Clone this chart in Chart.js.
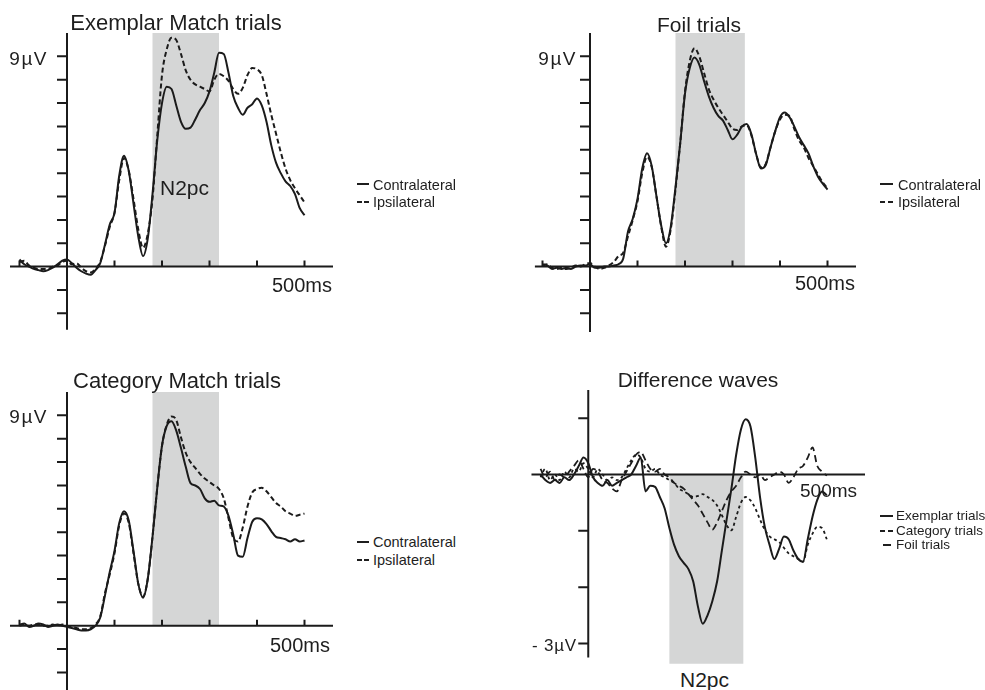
<!DOCTYPE html>
<html>
<head>
<meta charset="utf-8">
<script src="https://cdn.jsdelivr.net/npm/chart.js@4.4.0/dist/chart.umd.min.js"></script>
<style>
body{margin:0;background:#fff;width:985px;height:690px;overflow:hidden;position:relative;font-family:"Liberation Sans",Arial,sans-serif;color:#1e1e1e}
canvas{position:absolute}
.t{position:absolute;white-space:nowrap;line-height:1}
.c{transform:translateX(-50%)}
.r{text-align:right}
.mk{position:absolute;height:2px;background:#1e1e1e}
</style>
</head>
<body>

<canvas id="exemplar" width="323" height="299" style="left:10px;top:33px"></canvas>
<canvas id="foil" width="323" height="299" style="left:533px;top:33px"></canvas>
<canvas id="category" width="323" height="298" style="left:10px;top:392px"></canvas>
<canvas id="difference" width="334" height="276" style="left:531px;top:390px"></canvas>

<!-- titulos -->
<div class="t c" style="left:176px;top:12px;font-size:22px">Exemplar Match trials</div>
<div class="t c" style="left:699px;top:14px;font-size:21px">Foil trials</div>
<div class="t c" style="left:177px;top:370px;font-size:22px">Category Match trials</div>
<div class="t c" style="left:698px;top:369px;font-size:21px">Difference waves</div>

<!-- etiquetas de ejes -->
<div class="t r" style="left:0;width:48px;top:49px;font-size:19px;letter-spacing:1.5px">9µV</div>
<div class="t r" style="left:500px;width:77px;top:49px;font-size:19px;letter-spacing:1.5px">9µV</div>
<div class="t r" style="left:0;width:48px;top:407px;font-size:19px;letter-spacing:1.5px">9µV</div>
<div class="t r" style="left:500px;width:77px;top:637px;font-size:17px;letter-spacing:0.8px">- 3µV</div>
<div class="t" style="left:272px;top:275px;font-size:20px">500ms</div>
<div class="t" style="left:795px;top:273px;font-size:20px">500ms</div>
<div class="t" style="left:270px;top:635px;font-size:20px">500ms</div>
<div class="t" style="left:800px;top:481px;font-size:19px">500ms</div>
<div class="t" style="left:160px;top:177px;font-size:21px">N2pc</div>
<div class="t" style="left:680px;top:669px;font-size:21px">N2pc</div>

<!-- leyendas -->
<div class="mk" style="left:357px;top:183px;width:12px"></div>
<div class="mk" style="left:357px;top:201px;width:5px"></div>
<div class="mk" style="left:364px;top:201px;width:5px"></div>
<div class="t" style="left:373px;top:178px;font-size:14.5px">Contralateral</div>
<div class="t" style="left:373px;top:195px;font-size:14.5px">Ipsilateral</div>

<div class="mk" style="left:880px;top:183px;width:13px"></div>
<div class="mk" style="left:880px;top:201px;width:5px"></div>
<div class="mk" style="left:888px;top:201px;width:5px"></div>
<div class="t" style="left:898px;top:178px;font-size:14.5px">Contralateral</div>
<div class="t" style="left:898px;top:195px;font-size:14.5px">Ipsilateral</div>

<div class="mk" style="left:357px;top:541px;width:12px"></div>
<div class="mk" style="left:357px;top:559px;width:5px"></div>
<div class="mk" style="left:364px;top:559px;width:5px"></div>
<div class="t" style="left:373px;top:535px;font-size:14.5px">Contralateral</div>
<div class="t" style="left:373px;top:553px;font-size:14.5px">Ipsilateral</div>

<div class="mk" style="left:880px;top:515px;width:13px"></div>
<div class="mk" style="left:880px;top:530px;width:5px"></div>
<div class="mk" style="left:888px;top:530px;width:5px"></div>
<div class="mk" style="left:883px;top:544px;width:8px"></div>
<div class="t" style="left:896px;top:509px;font-size:13.5px">Exemplar trials</div>
<div class="t" style="left:896px;top:524px;font-size:13.5px">Category trials</div>
<div class="t" style="left:896px;top:538px;font-size:13.5px">Foil trials</div>

<script>
// tiempo en ms
var times = [-100,-90,-80,-70,-60,-50,-40,-30,-20,-10,
	0,10,20,30,40,50,60,70,80,90,
	100,110,120,130,140,150,160,170,180,190,
	200,210,220,230,240,250,260,270,280,290,
	300,310,320,330,340,350,360,370,380,390,
	400,410,420,430,440,450,460,470,480,490,
	500];

// Exemplar Match (µV)
var exContra = [0.3,0.1,0,-0.1,-0.15,-0.2,-0.15,-0.05,0.1,0.25,
	0.3,0.15,-0.05,-0.2,-0.3,-0.35,-0.15,0.15,0.95,1.8,
	2.3,3.9,4.75,4.1,2.7,1.3,0.45,1.2,3.1,5.4,
	7.0,7.7,7.6,6.9,6.2,5.9,5.95,6.3,6.7,7.0,
	7.5,8.3,9.15,9.1,8.3,7.3,6.8,6.5,6.8,6.95,
	7.2,6.9,6.2,5.2,4.45,4.0,3.65,3.45,3.1,2.5,
	2.2];
var exIpsi = [0.2,0.25,0.05,-0.05,-0.1,-0.1,-0.1,0,0.05,0.2,
	0.25,0.1,0.15,-0.05,-0.2,-0.25,-0.1,0.2,0.9,1.7,
	2.3,3.7,4.65,4.1,2.9,1.6,0.8,1.4,2.9,5.6,
	8.2,9.3,9.8,9.7,9.1,8.4,8.0,7.8,7.7,7.6,
	7.5,8.0,8.25,8.15,7.95,7.6,7.4,7.65,8.2,8.5,
	8.45,8.2,7.4,6.5,5.7,4.9,4.2,3.7,3.35,3.05,
	2.75];

// Foil
var foilContra = [0.1,0.05,-0.1,-0.05,-0.1,-0.05,-0.1,0,0.05,0.05,
	0.1,-0.05,-0.05,0,0,0.05,0.1,0.35,1.5,2.05,
	2.9,4.2,4.85,4.3,3.0,1.75,1.0,1.7,3.4,5.3,
	7.4,8.5,8.95,8.65,7.95,7.3,6.8,6.45,6.25,5.85,
	5.45,5.65,6.0,6.1,5.65,4.8,4.2,4.35,5.1,5.8,
	6.4,6.6,6.4,6.0,5.55,5.2,4.85,4.3,3.85,3.55,
	3.3];
var foilIpsi = [0.05,0.1,-0.05,-0.1,-0.05,-0.1,-0.05,0.05,0,0.1,
	0.15,0,-0.1,-0.05,0.05,0.2,0.45,0.6,1.3,2.0,
	2.8,4.0,4.7,4.25,3.0,1.7,0.85,1.6,3.3,5.3,
	7.5,8.8,9.35,9.0,8.3,7.6,7.15,6.8,6.5,6.2,
	5.9,5.85,6.0,6.05,5.6,4.8,4.25,4.4,5.1,5.8,
	6.3,6.5,6.45,5.9,5.4,5.1,4.65,4.3,3.95,3.6,
	3.35];

// Category Match
var catContra = [0.05,0.1,-0.05,0,0.1,0.05,-0.05,0,0.05,0,
	-0.05,-0.1,-0.15,-0.2,-0.2,-0.15,0,0.35,1.3,2.3,
	3.2,4.4,4.9,4.5,3.2,1.8,1.2,2.0,3.8,5.9,
	7.7,8.55,8.75,8.35,7.6,6.8,6.1,6.0,5.85,5.45,
	5.3,5.35,5.15,5.1,4.7,3.9,3.0,2.95,3.75,4.45,
	4.6,4.55,4.35,4.05,3.8,3.75,3.7,3.6,3.7,3.6,
	3.65];
var catIpsi = [0,0.05,0,0.05,0.05,0,0,0.05,0,0.05,
	0,-0.05,-0.1,-0.15,-0.15,-0.1,0.05,0.4,1.4,2.2,
	3.1,4.3,4.8,4.4,3.1,1.8,1.25,2.0,3.8,5.9,
	7.7,8.6,8.95,8.8,8.05,7.4,7.0,6.75,6.5,6.3,
	6.15,6.0,5.85,5.45,4.6,3.75,3.6,4.2,5.1,5.7,
	5.85,5.9,5.75,5.5,5.25,5.1,4.9,4.8,4.7,4.75,
	4.8];

// Difference waves (contra - ipsi)
var diffExemplar = [0,-0.1,-0.15,-0.1,-0.15,-0.05,-0.1,0,0.15,0.3,
	0.2,-0.05,-0.15,-0.2,-0.1,-0.2,-0.15,-0.1,-0.05,0,
	0.15,0.3,-0.3,-0.2,-0.22,-0.4,-0.6,-0.95,-1.25,-1.45,
	-1.57,-1.68,-1.9,-2.35,-2.65,-2.5,-2.25,-1.9,-1.35,-0.8,
	-0.25,0.35,0.8,0.98,0.85,0.3,-0.4,-0.93,-1.25,-1.5,
	-1.32,-1.1,-1.15,-1.35,-1.5,-1.55,-1.15,-0.75,-0.45,-0.3,
	-0.37];
var diffCategory = [-0.05,0.1,-0.1,0,-0.1,0.05,-0.05,0.1,0.05,0.2,
	0.1,-0.05,0.1,0,-0.1,-0.05,-0.1,-0.05,0.1,0.25,
	0.35,0.3,0.1,0.05,0.1,0,-0.05,-0.1,-0.15,-0.25,
	-0.3,-0.35,-0.4,-0.38,-0.35,-0.4,-0.45,-0.55,-0.72,-0.9,
	-0.99,-0.75,-0.5,-0.4,-0.46,-0.6,-0.8,-0.98,-1.1,-1.15,
	-1.2,-1.3,-1.4,-1.45,-1.5,-1.55,-1.25,-1.05,-0.93,-0.95,
	-1.15];
var diffFoil = [0.1,-0.05,0.05,-0.1,0,-0.05,0.05,0.15,0.25,0.1,
	-0.05,0.1,0.05,-0.1,-0.15,-0.25,-0.3,-0.1,0.05,0.2,
	0.35,0.4,0.25,0.1,0.05,0.1,0,-0.05,-0.15,-0.2,
	-0.25,-0.35,-0.45,-0.55,-0.7,-0.85,-0.98,-0.85,-0.65,-0.45,
	-0.3,-0.2,-0.05,0.05,0,-0.05,0,-0.1,-0.05,0,
	0.05,0,-0.15,-0.05,0.1,0.15,0.3,0.48,0.15,0.05,
	-0.02];

// ventana N2pc (ms)
var n2pcWindow = [180, 320];
var n2pcWindowFoil = [180, 326];
var n2pcWindowDiff = [170, 325];

// marcas de los ejes
var uvTicks = [-2,-1,1,2,3,4,5,6,7,8,9];
var msTicks = [-100,100,200,300,400,500];
var diffTicks = [1,-1,-2,-3];

var INK = '#1b1b1b';

// dibuja sombreado y ejes cruzados en el origen
var erpAxes = {
	id: 'erpAxes',
	beforeDatasetsDraw: function (chart, args, o) {
		var ctx = chart.ctx, x = chart.scales.x, y = chart.scales.y;
		ctx.save();
		ctx.fillStyle = '#d5d6d6';
		var x0 = x.getPixelForValue(o.shade[0]), x1 = x.getPixelForValue(o.shade[1]);
		var y0 = y.getPixelForValue(o.shade[2]), y1 = y.getPixelForValue(o.shade[3]);
		ctx.fillRect(x0, Math.min(y0, y1), x1 - x0, Math.abs(y1 - y0));

		var ox = x.getPixelForValue(0), oy = y.getPixelForValue(0);
		ctx.strokeStyle = INK;
		ctx.lineWidth = 2;
		ctx.beginPath();
		ctx.moveTo(x.getPixelForValue(o.xSpan[0]), oy);
		ctx.lineTo(x.getPixelForValue(o.xSpan[1]), oy);
		ctx.moveTo(ox, y.getPixelForValue(o.ySpan[0]));
		ctx.lineTo(ox, y.getPixelForValue(o.ySpan[1]));
		o.yTicks.forEach(function (v) {
			var py = y.getPixelForValue(v);
			ctx.moveTo(ox - 10, py);
			ctx.lineTo(ox, py);
		});
		o.xTicks.forEach(function (t) {
			var px = x.getPixelForValue(t);
			ctx.moveTo(px, oy);
			ctx.lineTo(px, oy - 6);
		});
		ctx.stroke();
		ctx.restore();
	}
};

function serie(vals, dash, width) {
	return {
		data: times.map(function (t, i) { return {x: t, y: vals[i]}; }),
		borderColor: INK,
		borderWidth: width || 2,
		borderDash: dash || [],
		pointRadius: 0,
		cubicInterpolationMode: 'monotone',
		fill: false
	};
}

function panel(id, datasets, xr, yr, axes) {
	return new Chart(document.getElementById(id), {
		type: 'line',
		data: {datasets: datasets},
		options: {
			responsive: false,
			devicePixelRatio: 1,
			animation: false,
			layout: {padding: 0},
			scales: {
				x: {type: 'linear', min: xr[0], max: xr[1], display: false},
				y: {type: 'linear', min: yr[0], max: yr[1], display: false}
			},
			plugins: {legend: {display: false}, tooltip: {enabled: false}, erpAxes: axes}
		},
		plugins: [erpAxes]
	});
}

window.Exemplar = panel('exemplar',
	[serie(exIpsi, [5, 3]), serie(exContra)],
	[-120, 560], [-2.8, 10],
	{shade: [n2pcWindow[0], n2pcWindow[1], 0, 10], xSpan: [-120, 560], ySpan: [-2.7, 10], yTicks: uvTicks, xTicks: msTicks});

window.Foil = panel('foil',
	[serie(foilIpsi, [5, 3]), serie(foilContra)],
	[-120, 560], [-2.8, 10],
	{shade: [n2pcWindowFoil[0], n2pcWindowFoil[1], 0, 10], xSpan: [-116, 560], ySpan: [-2.8, 10], yTicks: uvTicks, xTicks: msTicks});

window.Category = panel('category',
	[serie(catIpsi, [5, 3]), serie(catContra)],
	[-120, 560], [-2.75, 10],
	{shade: [n2pcWindow[0], n2pcWindow[1], 0, 10], xSpan: [-120, 560], ySpan: [-2.75, 10], yTicks: uvTicks, xTicks: msTicks});

window.Difference = panel('difference',
	[serie(diffFoil, [7, 4], 1.8), serie(diffCategory, [3, 3], 1.8), serie(diffExemplar)],
	[-120, 580], [-3.4, 1.5],
	{shade: [n2pcWindowDiff[0], n2pcWindowDiff[1], 0, -3.36], xSpan: [-119, 580], ySpan: [-3.25, 1.5], yTicks: diffTicks, xTicks: []});
</script>
</body>
</html>
